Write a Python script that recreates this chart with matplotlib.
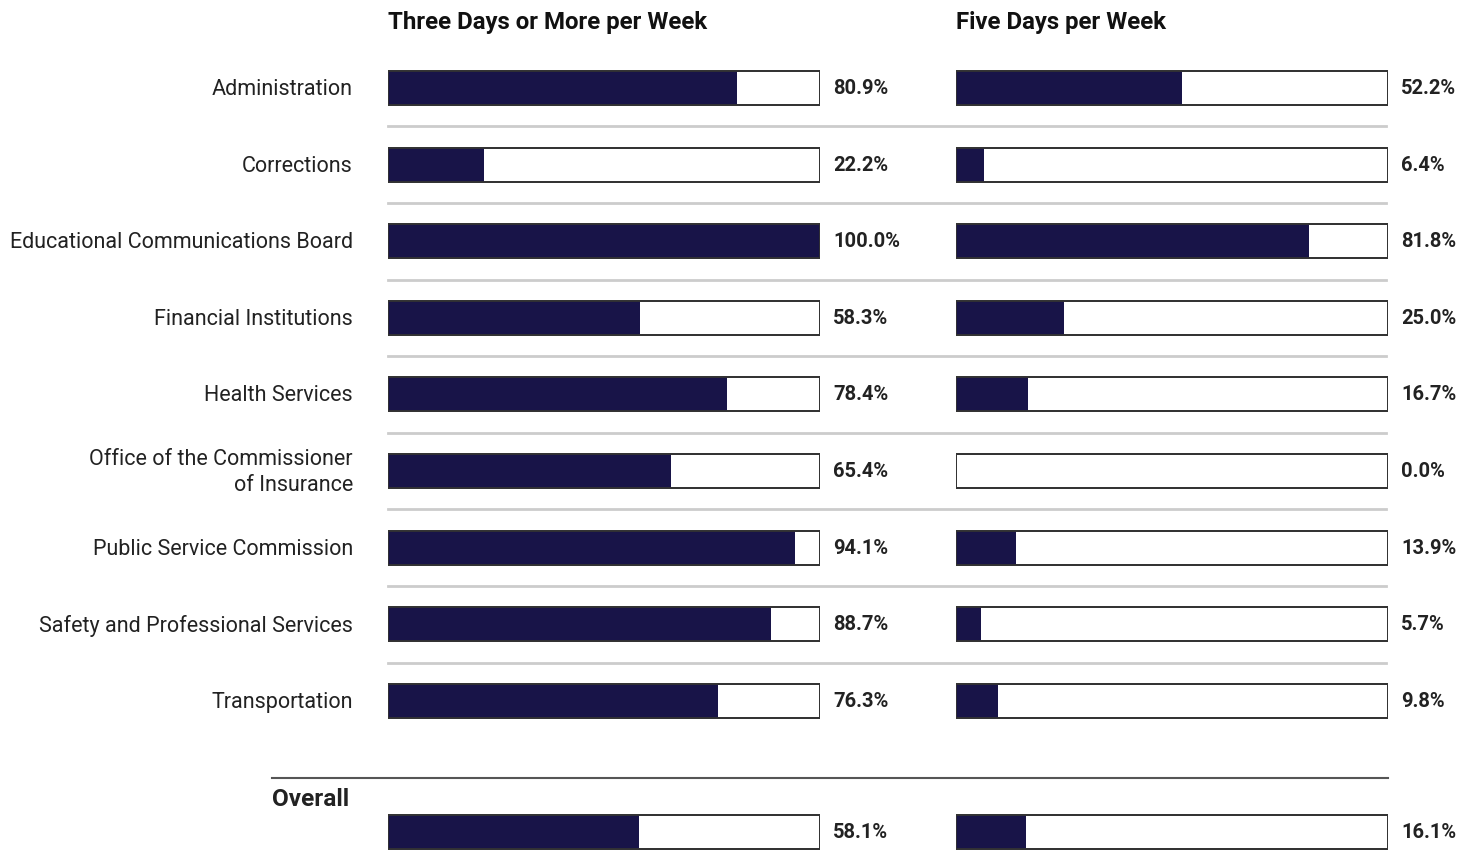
import matplotlib
matplotlib.use("Agg")
import matplotlib.pyplot as plt
from matplotlib.lines import Line2D

plt.rcParams['font.family'] = ['Roboto', 'DejaVu Sans']

categories = [
    "Administration",
    "Corrections",
    "Educational Communications Board",
    "Financial Institutions",
    "Health Services",
    "Office of the Commissioner\nof Insurance",
    "Public Service Commission",
    "Safety and Professional Services",
    "Transportation",
]
three_days = [80.9, 22.2, 100.0, 58.3, 78.4, 65.4, 94.1, 88.7, 76.3]
five_days = [52.2, 6.4, 81.8, 25.0, 16.7, 0.0, 13.9, 5.7, 9.8]
overall_label = "Overall"
overall_three = 58.1
overall_five = 16.1
panel_titles = ["Three Days or More per Week", "Five Days per Week"]

W, H = 1474, 851
fig = plt.figure(figsize=(W / 100, H / 100), dpi=100)

BAR_COLOR = "#181448"
EDGE = "#333333"
TEXT = "#222222"

# background overlay axes in pixel coordinates
bg = fig.add_axes([0, 0, 1, 1])
bg.set_xlim(0, W)
bg.set_ylim(H, 0)
bg.axis("off")

row_y = [88 + i * 76.6 for i in range(len(categories))]
overall_y = 832
bar_h = 34

panels = [(388, 432, three_days, overall_three), (956, 432, five_days, overall_five)]

for (x0, w, vals, ov), title in zip(panels, panel_titles):
    ax = fig.add_axes([x0 / W, 0, w / W, 1])
    ax.set_xlim(0, 100)
    ax.set_ylim(H, 0)
    ax.axis("off")
    ys = row_y + [overall_y]
    vs = vals + [ov]
    ax.barh(ys, [100] * len(ys), height=bar_h, color="white", edgecolor=EDGE, linewidth=1.3, zorder=2)
    ax.barh(ys, vs, height=bar_h, color=BAR_COLOR, edgecolor="none", zorder=3)
    ax.barh(ys, [100] * len(ys), height=bar_h, color="none", edgecolor=EDGE, linewidth=1.3, zorder=4)
    for y, v in zip(ys, vs):
        ax.text(103, y + 0.5, f"{v:.1f}%", ha="left", va="center", fontsize=14.5, fontweight="bold", color=TEXT)
    ax.text(0, 22.5, title, ha="left", va="center", fontsize=17.3, fontweight="bold", color="#111111")

# category labels
for y, c in zip(row_y, categories):
    bg.text(353, y + 1.5, c, ha="right", va="center", fontsize=15.5, color=TEXT, linespacing=1.3)

# separators
for i in range(len(categories) - 1):
    y = (row_y[i] + row_y[i + 1]) / 2
    bg.add_line(Line2D([388, 1386], [y, y], color="#cccccc", linewidth=2))

# overall divider
bg.add_line(Line2D([272, 1388], [778, 778], color="#555555", linewidth=1.5))
bg.text(272, 800, overall_label, ha="left", va="center", fontsize=17.6, fontweight="bold", color=TEXT)

fig.savefig("out.png", dpi=100)
